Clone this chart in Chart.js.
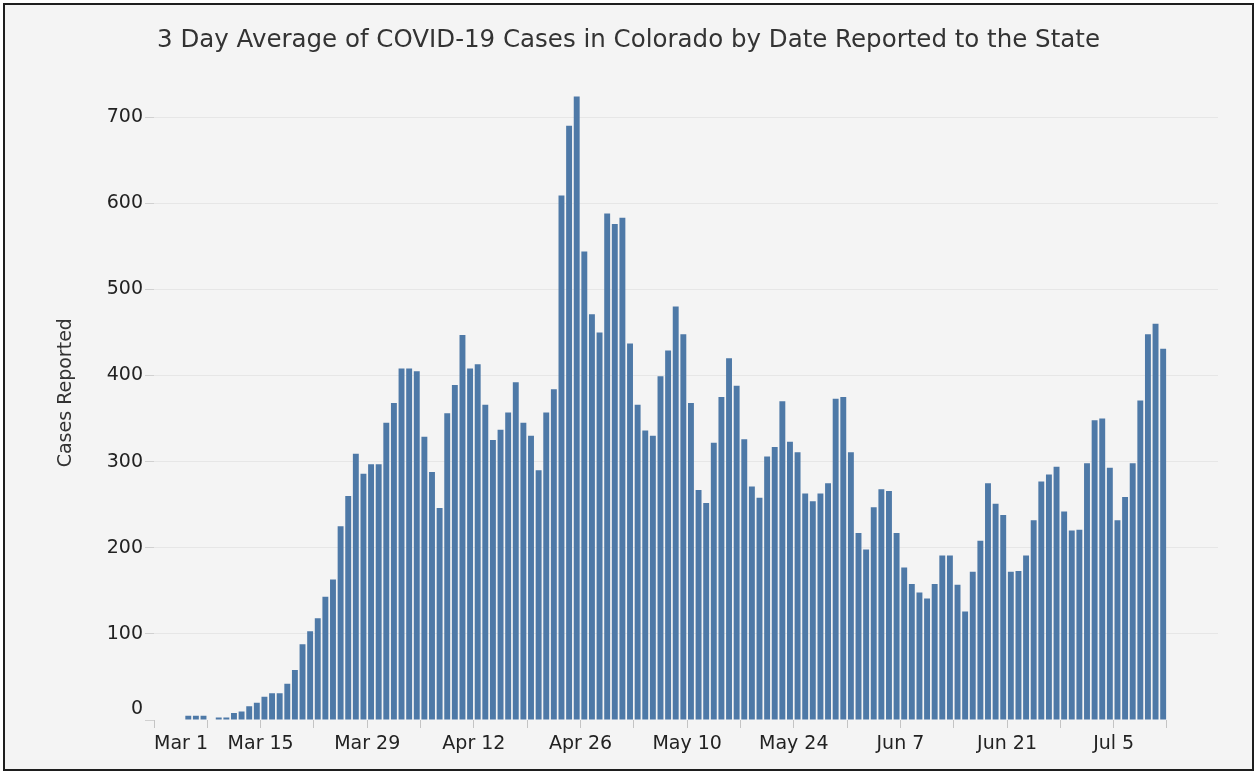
<!DOCTYPE html>
<html>
<head>
<meta charset="utf-8">
<title>3 Day Average of COVID-19 Cases in Colorado</title>
<script src="https://cdn.jsdelivr.net/npm/chart.js@4.4.1/dist/chart.umd.min.js"></script>
<style>
    html, body { margin: 0; padding: 0; background: #fff; }
    #moldura {
        position: absolute; left: 3px; top: 3px;
        width: 1247px; height: 764px;
        border: 2px solid #1e1e1e; background: #f4f4f4;
    }
    canvas { display: block; }
</style>
</head>
<body>
<div id="moldura"><canvas id="grafico" width="1247" height="764"></canvas></div>
<script>
// 3-day average of cases, one value per day (Mar 1 .. Jul 11)
const casosMarco = [0, 0, 0, 0, 5, 5, 5, 0, 3, 3, 8, 10, 16, 20, 27, 31, 31, 42, 58, 88,
    103, 118, 143, 163, 225, 260, 309, 286, 297, 297, 345];
const casosAbril = [368, 408, 408, 405, 329, 288, 246, 356, 389, 447, 408, 413, 366, 325, 337,
    357, 392, 345, 330, 290, 357, 384, 609, 690, 724, 544, 471, 450, 588, 576];
const casosMaio = [583, 437, 366, 336, 330, 399, 429, 480, 448, 368, 267, 252, 322, 375, 420, 388,
    326, 271, 258, 306, 317, 370, 323, 311, 263, 254, 263, 275, 373, 375, 311];
const casosJunho = [217, 198, 247, 268, 266, 217, 177, 158, 148, 141, 158, 191, 191, 157, 126,
    172, 208, 275, 251, 238, 172, 173, 191, 232, 277, 285, 294, 242, 220, 221];
const casosJulho = [298, 348, 350, 293, 232, 259, 298, 371, 448, 460, 431];

// x labels every 14 days, starting Mar 1
const rotulosX = ['Mar 1', 'Mar 15', 'Mar 29', 'Apr 12', 'Apr 26', 'May 10', 'May 24', 'Jun 7', 'Jun 21', 'Jul 5'];
const titulo = '3 Day Average of COVID-19 Cases in Colorado by Date Reported to the State';
const tituloY = 'Cases Reported';

const fonte = '"DejaVu Sans", Verdana, sans-serif';

function criarGrafico() {
    const casos = [].concat(casosMarco, casosAbril, casosMaio, casosJunho, casosJulho);
    const pontos = casos.map((valor, dia) => ({ x: dia + 0.5, y: valor }));

    const ctx = document.getElementById('grafico').getContext('2d');
    return new Chart(ctx, {
        type: 'bar',
        data: {
            datasets: [{
                label: tituloY,
                data: pontos,
                backgroundColor: '#4e79a7',
                borderWidth: 0,
                categoryPercentage: 0.8,
                barPercentage: 0.97
            }]
        },
        options: {
            responsive: false,
            animation: false,
            layout: { padding: 0 },
            plugins: {
                legend: { display: false },
                tooltip: { enabled: false },
                title: {
                    display: true,
                    text: titulo,
                    color: '#333',
                    font: { family: fonte, size: 24.5, weight: 'normal' },
                    padding: { top: 21, bottom: 10 }
                }
            },
            scales: {
                x: {
                    type: 'linear',
                    min: 0,
                    max: 139.7,
                    offset: false,
                    border: { display: false },
                    grid: {
                        offset: false,
                        drawOnChartArea: false,
                        drawTicks: true,
                        tickLength: 8,
                        tickColor: '#c4c4c4'
                    },
                    ticks: {
                        stepSize: 7,
                        includeBounds: false,
                        autoSkip: false,
                        maxRotation: 0,
                        minRotation: 0,
                        align: 'inner',
                        padding: 5,
                        color: '#222',
                        font: { family: fonte, size: 19 },
                        callback: function(valor) {
                            return valor % 14 === 0 ? rotulosX[valor / 14] : '';
                        }
                    },
                    afterFit: function(eixo) { eixo.height = 49; }
                },
                y: {
                    min: 0,
                    max: 760,
                    border: { display: false },
                    grid: {
                        color: c => (c.tick && c.tick.value === 0) ? 'rgba(0,0,0,0)' : '#e6e6e6',
                        tickColor: '#d0d0d0',
                        tickLength: 9
                    },
                    ticks: {
                        stepSize: 100,
                        includeBounds: false,
                        padding: 2,
                        color: '#222',
                        font: { family: fonte, size: 19 },
                        callback: function(valor) {
                            // the zero label sits just above the baseline
                            return valor === 0 ? ['0', ''] : valor;
                        }
                    },
                    title: {
                        display: true,
                        text: tituloY,
                        color: '#333',
                        font: { family: fonte, size: 19 },
                        padding: { top: 50, bottom: 0 }
                    },
                    afterFit: function(eixo) { eixo.width = 149; }
                },
                // empty strip on the right so the title stays centred on the page
                margemDireita: {
                    type: 'linear',
                    position: 'right',
                    border: { display: false },
                    grid: { display: false },
                    ticks: { display: false },
                    afterFit: function(eixo) { eixo.width = 34; }
                }
            }
        }
    });
}

document.addEventListener('DOMContentLoaded', criarGrafico);
</script>
</body>
</html>
